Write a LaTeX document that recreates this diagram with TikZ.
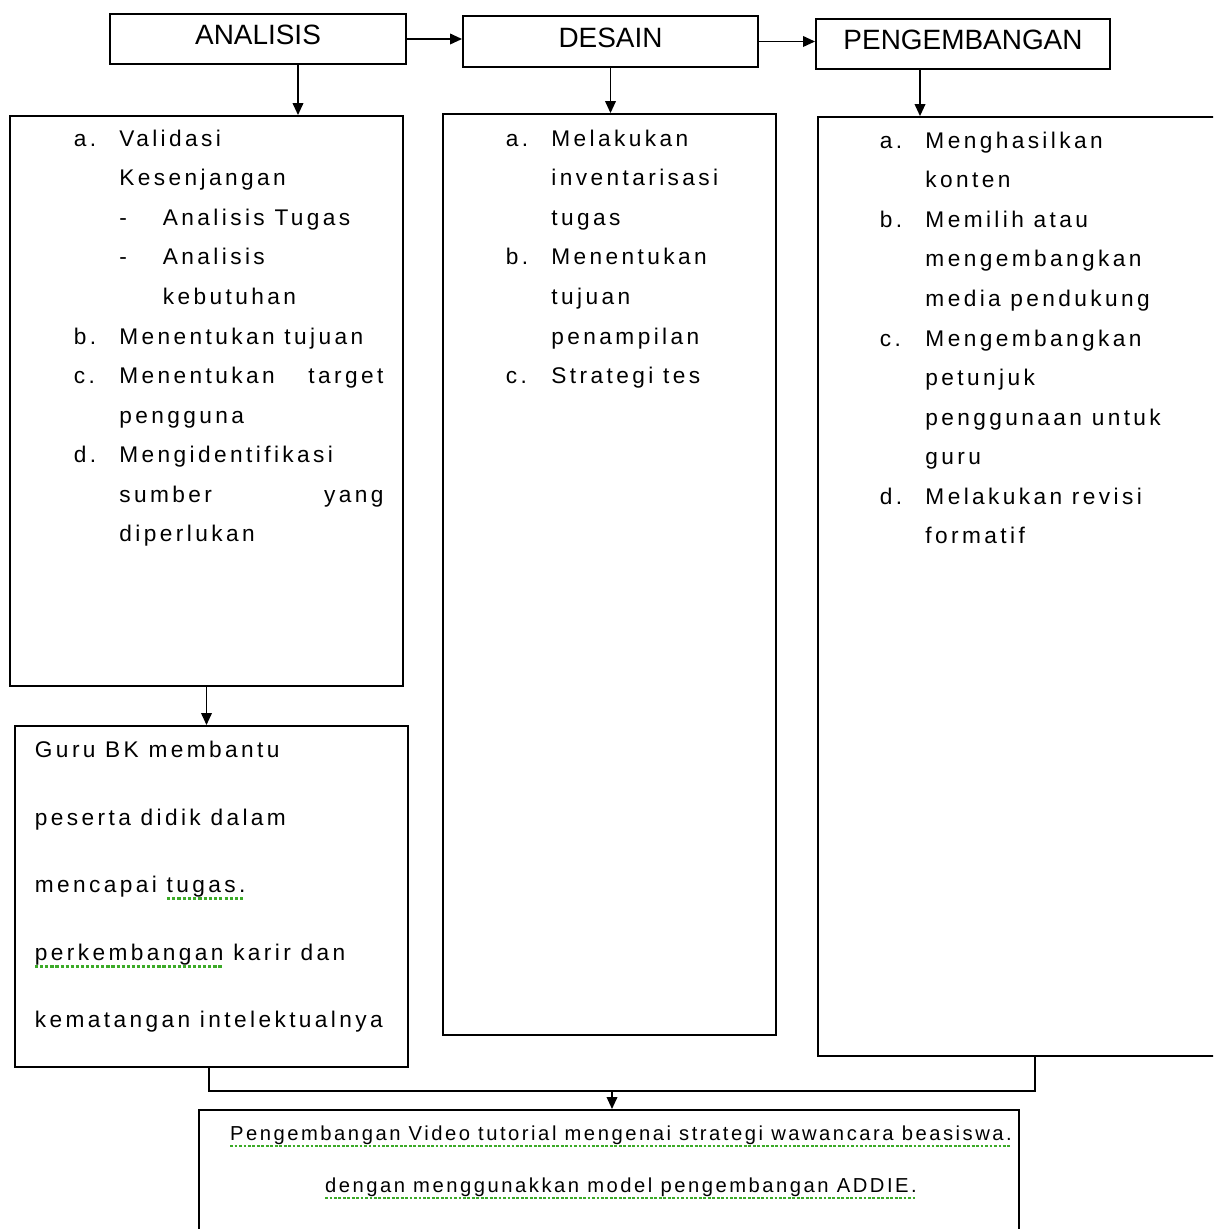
\documentclass[tikz,border=0pt]{standalone}
\usepackage{fontspec}
\setmainfont{Liberation Sans}
\newfontfamily\bodyfont[LetterSpace=15]{Liberation Sans}
\newfontfamily\footfont[LetterSpace=12.5]{Liberation Sans}
\usetikzlibrary{arrows.meta,positioning}
\usepackage{xcolor}
\definecolor{spellgreen}{RGB}{60,170,40}

% spell-check style dotted underline
\newsavebox\spellbox
\newlength\spellwd
\newcommand\spell[1]{\leavevmode\sbox\spellbox{#1}\setlength\spellwd{\wd\spellbox}%
  \rlap{\raisebox{-0.6ex}[0pt][0pt]{\color{spellgreen}\hbox to \spellwd{\xleaders\hbox{\rule{0.14em}{0.2ex}\kern0.08em}\hfill}}}\usebox\spellbox}
% list labels
\newcommand\lbl[1]{\makebox[0.91cm][l]{#1}}
\newcommand\cnt{\hspace*{0.91cm}}
\newcommand\dsh{\hspace*{0.91cm}\makebox[0.87cm][l]{-}}

\begin{document}
\begin{tikzpicture}[x=0.02cm,y=-0.02cm,line width=1.1pt,
  box/.style={draw,inner sep=0pt},
  head/.style={box,text depth=0.16cm,font=\fontsize{15.9}{19}\selectfont},
  txt/.style={inner sep=0pt,anchor=north west,align=left,font=\bodyfont\fontsize{12.9}{22.5}\selectfont},
  arr/.style={-{Triangle[length=0.24cm,width=0.21cm]}}]
  \clip (0,0) rectangle (1213,1229);

  % top row
  \node[head,minimum width=5.92cm,minimum height=1cm]    (ana) at (258,39)    {ANALISIS};
  \node[head,minimum width=5.9cm,minimum height=1.02cm]  (des) at (610.5,41.5) {DESAIN};
  \node[head,minimum width=5.88cm,minimum height=1cm]    (pen) at (963,44)    {PENGEMBANGAN};

  % columns
  \node[box,minimum width=7.86cm,minimum height=11.4cm]  (boxa) at (206.5,401)  {};
  \node[box,minimum width=6.66cm,minimum height=18.42cm] (boxd) at (609.5,574.5) {};
  \node[box,minimum width=8.24cm,minimum height=18.78cm] (boxp) at (1024,586.5) {};
  \node[box,minimum width=7.86cm,minimum height=6.82cm]  (guru) at (211.5,896.5) {};
  \node[box,minimum width=16.4cm,minimum height=2.6cm]   (foot) at (609,1175)   {};

  \node[txt] (texta) at (73,129) {%
    \lbl{a.}Validasi\\
    \cnt Kesenjangan\\
    \dsh Analisis Tugas\\
    \dsh Analisis\\
    \cnt\hspace*{0.87cm}kebutuhan\\
    \lbl{b.}Menentukan tujuan\\
    \lbl{c.}\makebox[5.28cm][s]{Menentukan target}\\
    \cnt pengguna\\
    \lbl{d.}Mengidentifikasi\\
    \cnt\makebox[5.28cm][s]{sumber yang}\\
    \cnt diperlukan};
  \node[txt] (textd) at (505,129) {%
    \lbl{a.}Melakukan\\
    \cnt inventarisasi\\
    \cnt tugas\\
    \lbl{b.}Menentukan\\
    \cnt tujuan\\
    \cnt penampilan\\
    \lbl{c.}Strategi tes};
  \node[txt] (textp) at (879,131) {%
    \lbl{a.}Menghasilkan\\
    \cnt konten\\
    \lbl{b.}Memilih atau\\
    \cnt mengembangkan\\
    \cnt media pendukung\\
    \lbl{c.}Mengembangkan\\
    \cnt petunjuk\\
    \cnt penggunaan untuk\\
    \cnt guru\\
    \lbl{d.}Melakukan revisi\\
    \cnt formatif};
  \node[txt,font=\bodyfont\fontsize{12.9}{38.5}\selectfont] (textg) at (34,740) {%
    Guru BK membantu\\
    peserta didik dalam\\
    mencapai \spell{tugas.}\\
    \spell{perkembangan} karir dan\\
    kematangan intelektualnya};
  \node[inner sep=0pt,align=center,font=\footfont\fontsize{11.5}{29.6}\selectfont] (textf) at (621,1161) {%
    \spell{Pengembangan Video tutorial mengenai strategi wawancara beasiswa.}\\
    \spell{dengan menggunakkan model pengembangan ADDIE.}};

  % connectors
  \coordinate (anad) at ([xshift=0.8cm]ana.south);
  \coordinate (pend) at ([xshift=-0.86cm]pen.south);
  \path[arr] (ana.east) edge (ana.east -| des.west)
             (des.east) edge (des.east -| pen.west)
             (anad) edge (anad |- boxa.north)
             (des.south) edge (des.south |- boxd.north)
             (pend) edge (pend |- boxp.north)
             (boxa.south) edge (boxa.south |- guru.north);

  \coordinate (jl) at (209,1091);
  \coordinate (jr) at (1035,1091);
  \coordinate (jm) at (612,1091);
  \draw (guru.south -| jl) -- (jl) -- (jr) -- (jr |- boxp.south);
  \draw[arr] (jm) -- (jm |- foot.north);
\end{tikzpicture}
\end{document}
